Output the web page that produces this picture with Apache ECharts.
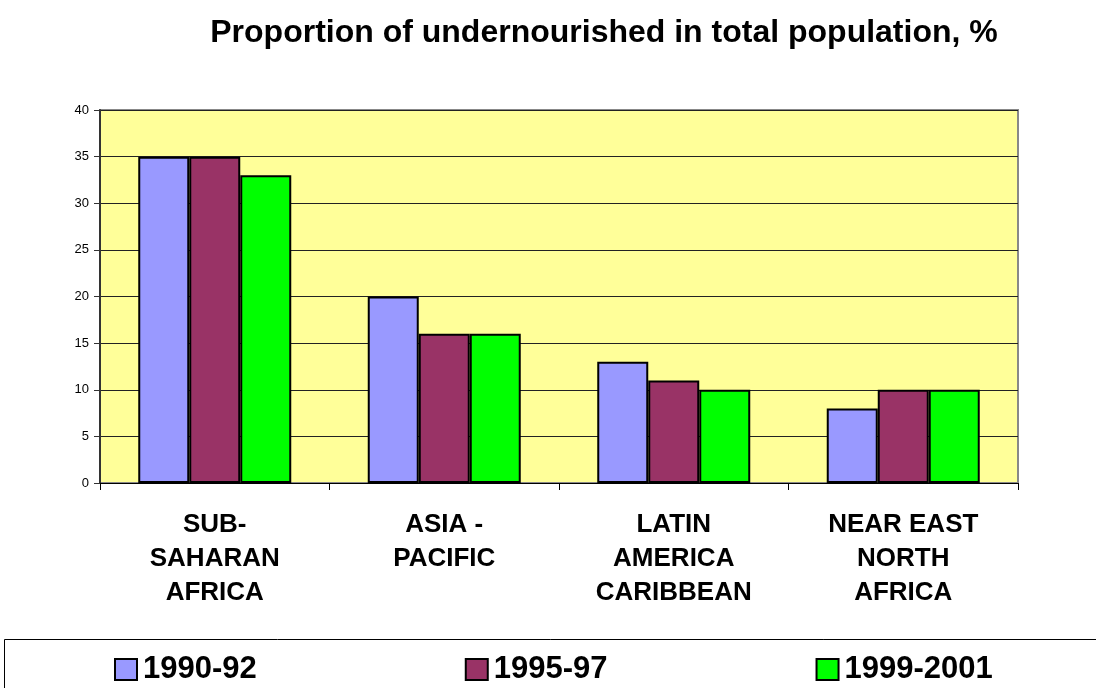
<!DOCTYPE html>
<html>
<head>
<meta charset="utf-8">
<title>Proportion of undernourished</title>
<script src="https://cdn.jsdelivr.net/npm/echarts@6/dist/echarts.min.js"></script>
<style>
  html, body { margin: 0; padding: 0; background: #fff; }
  #chart { width: 1096px; height: 688px; }
</style>
</head>
<body>
<div id="chart"></div>
<script>
// Data
const regions = ['SUB-\nSAHARAN\nAFRICA', 'ASIA -\nPACIFIC', 'LATIN\nAMERICA\nCARIBBEAN', 'NEAR EAST\nNORTH\nAFRICA']
const periods = ['1990-92', '1995-97', '1999-2001']
const values1990 = [35, 20, 13, 8]
const values1995 = [35, 16, 11, 10]
const values1999 = [33, 16, 10, 10]
const yTicks = { min: 0, max: 40, interval: 5 }

const colors = ['#9999FF', '#993366', '#00FF00']
const font = 'Arial, "Liberation Sans", sans-serif'

const chart = echarts.init(document.getElementById('chart'))

const makeSeries = (name, data, color) => ({
  name,
  type: 'bar',
  data,
  barWidth: 51,
  barGap: '0%',
  itemStyle: {
    color,
    borderColor: '#000',
    borderWidth: 2
  }
})

chart.setOption({
  animation: false,
  backgroundColor: '#fff',
  title: {
    text: 'Proportion of undernourished in total population, %',
    left: 599,
    top: 12,
    textAlign: 'center',
    textStyle: {
      fontFamily: font,
      fontSize: 32,
      fontWeight: 'bold',
      color: '#000'
    }
  },
  grid: {
    left: 100,
    right: 78,
    top: 110,
    bottom: 205,
    show: true,
    backgroundColor: '#FFFF99',
    borderColor: '#888',
    borderWidth: 2
  },
  legend: {
    data: periods,
    left: 109,
    top: 649,
    itemWidth: 22,
    itemHeight: 21,
    itemGap: 208,
    icon: 'rect',
    textStyle: {
      fontFamily: font,
      fontSize: 31,
      fontWeight: 'bold',
      color: '#000',
      padding: [0, 0, 0, 1]
    }
  },
  graphic: [
    {
      type: 'rect',
      shape: { x: 4.5, y: 639.5, width: 1100, height: 60 },
      style: { fill: 'none', stroke: '#000', lineWidth: 1 },
      silent: true
    }
  ],
  xAxis: {
    type: 'category',
    data: regions,
    axisLine: { lineStyle: { color: '#000', width: 1 } },
    axisTick: { show: true, length: 7, lineStyle: { color: '#000' } },
    axisLabel: {
      margin: 25,
      interval: 0,
      fontFamily: font,
      fontSize: 26,
      fontWeight: 'bold',
      color: '#000',
      lineHeight: 34,
      align: 'center'
    }
  },
  yAxis: {
    type: 'value',
    min: yTicks.min,
    max: yTicks.max,
    interval: yTicks.interval,
    axisLine: { show: true, lineStyle: { color: '#333', width: 2 } },
    axisTick: { show: true, length: 6, lineStyle: { color: '#333' } },
    axisLabel: {
      margin: 11,
      fontFamily: font,
      fontSize: 13,
      color: '#000'
    },
    splitLine: { show: true, lineStyle: { color: '#222', width: 1 } }
  },
  series: [
    makeSeries(periods[0], values1990, colors[0]),
    makeSeries(periods[1], values1995, colors[1]),
    makeSeries(periods[2], values1999, colors[2])
  ]
})
</script>
</body>
</html>
